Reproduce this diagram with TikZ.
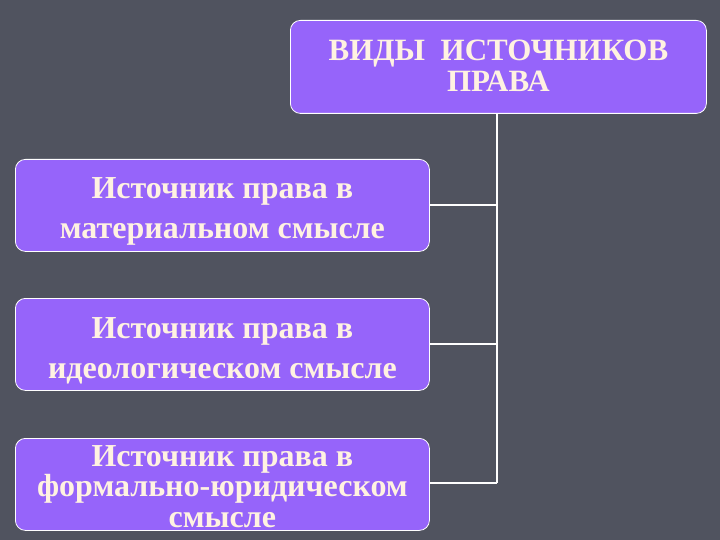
\documentclass[tikz,border=0pt]{standalone}
\usepackage{fontspec}
\setmainfont{Liberation Serif}
\definecolor{bg}{RGB}{80,83,95}
\definecolor{boxfill}{RGB}{150,100,250}
\definecolor{txt}{RGB}{255,242,225}
\begin{document}
\begin{tikzpicture}[x=1pt,y=-1pt,
  box/.style={draw=white, line width=0.8pt, fill=boxfill, rounded corners=10pt,
    anchor=north west, inner sep=0pt},
  boxtext/.style={text=txt, align=center, inner sep=0pt},
  link/.style={draw=white, line width=1.5pt}]
\fill[bg] (0,0) rectangle (720,540);
\useasboundingbox (0,0) rectangle (720,540);
\node[box, minimum width=416pt, minimum height=93pt] (top) at (290,20) {};
\node[box, minimum width=414pt, minimum height=92pt] (b1) at (15,159) {};
\node[box, minimum width=414pt, minimum height=92pt] (b2) at (15,298) {};
\node[box, minimum width=414pt, minimum height=92pt] (b3) at (15,438) {};
\node[boxtext, font=\bfseries\fontsize{31}{31}\selectfont] (topt) at ([yshift=1.5pt]top.center)
  {ВИДЫ\ \ ИСТОЧНИКОВ\\ПРАВА};
\node[boxtext, font=\bfseries\fontsize{32}{40}\selectfont] (b1t) at ([yshift=-6pt]b1.center)
  {Источник права в\\материальном смысле};
\node[boxtext, font=\bfseries\fontsize{32}{40}\selectfont] (b2t) at ([yshift=-6pt]b2.center)
  {Источник права в\\идеологическом смысле};
\node[boxtext, font=\bfseries\fontsize{32}{30.5}\selectfont] (b3t) at ([yshift=-2pt]b3.center)
  {Источник права в\\формально-юридическом\\смысле};
\coordinate (j1) at (497,205);
\coordinate (j2) at (497,344);
\coordinate (j3) at (497,483);
\draw[link] (top.south -| j1) -- (j3);
\draw[link] (j1) -- (j1 -| b1.east);
\draw[link] (j2) -- (j2 -| b2.east);
\draw[link] (j3) -- (j3 -| b3.east);
\end{tikzpicture}
\end{document}
